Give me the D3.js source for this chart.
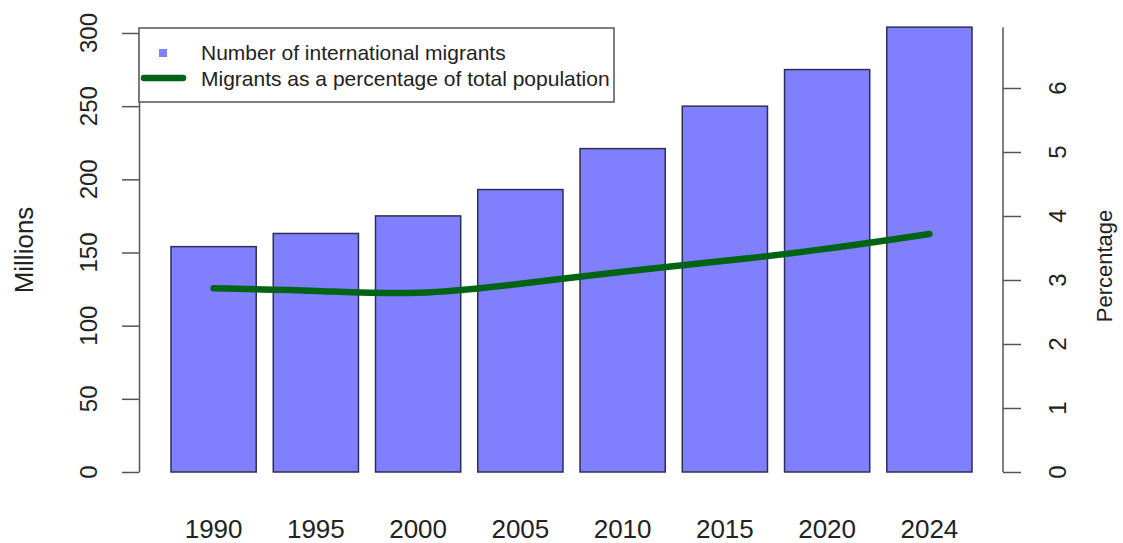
<!DOCTYPE html>
<html>
<head>
<meta charset="utf-8">
<script src="https://cdn.jsdelivr.net/npm/d3@7"></script>
<style>
    body { margin: 0; background: #fff; }
    svg { display: block; font-family: "Liberation Sans", Arial, sans-serif; }
</style>
</head>
<body>
<svg id="chart" width="1123" height="543"></svg>
<script>
// Data
const years = ['1990', '1995', '2000', '2005', '2010', '2015', '2020', '2024'];
const migrants = [154, 163, 175, 193, 221, 250, 275, 304]; // millions
const percentage = [2.87, 2.83, 2.80, 2.94, 3.13, 3.30, 3.49, 3.72];
const millionTicks = [0, 50, 100, 150, 200, 250, 300];
const pctTicks = [0, 1, 2, 3, 4, 5, 6];
const legendLabels = ['Number of international migrants', 'Migrants as a percentage of total population'];

/**
 * Visual configs.
 */
const barFill = '#8080ff',
    barStroke = '#2e2e55',
    lineColor = '#006414',
    axisColor = '#555';

const svg = d3.select('#chart');

const x = d3.scaleBand().domain(years).range([171, 972]).paddingInner(1 / 6).paddingOuter(0);
const yLeft = d3.scaleLinear().domain([0, 300]).range([472, 33]);
const yRight = d3.scaleLinear().domain([0, 6]).range([472, 88]);

// Bars
svg.append('g').attr('class', 'bars')
    .selectAll('rect').data(migrants).enter().append('rect')
        .attr('x', (d, i) => x(years[i]))
        .attr('y', d => yLeft(d))
        .attr('width', x.bandwidth())
        .attr('height', d => yLeft(0) - yLeft(d))
        .style('fill', barFill)
        .style('stroke', barStroke)
        .style('stroke-width', 1.5);

// Percentage line
const line = d3.line()
    .x((d, i) => x(years[i]) + x.bandwidth() / 2)
    .y(d => yRight(d))
    .curve(d3.curveNatural);

svg.append('path').datum(percentage)
    .attr('d', line)
    .style('fill', 'none')
    .style('stroke', lineColor)
    .style('stroke-width', 6.5)
    .style('stroke-linecap', 'round');

// Axes
function styleAxis(g) {
    g.selectAll('path, line').style('stroke', axisColor).style('stroke-width', 1.5);
    g.selectAll('text').remove();
}

const leftAxis = svg.append('g').attr('transform', 'translate(139,0)')
    .call(d3.axisLeft(yLeft).tickValues(millionTicks).tickSize(17).tickSizeOuter(0))
    .call(styleAxis);

const rightAxis = svg.append('g').attr('transform', 'translate(1003,0)')
    .call(d3.axisRight(yRight).tickValues(pctTicks).tickSize(18).tickSizeOuter(0))
    .call(styleAxis);
// Right axis line runs past the last tick
rightAxis.select('.domain').attr('d', 'M0,' + yRight(0) + 'V' + yRight(6.95));

// Tick labels, rotated like R's axis labels
svg.append('g').selectAll('text').data(millionTicks).enter().append('text')
    .attr('transform', d => 'translate(97,' + yLeft(d) + ') rotate(-90)')
    .attr('text-anchor', 'middle')
    .style('font-size', '24px')
    .style('fill', '#222')
    .text(d => d);

svg.append('g').selectAll('text').data(pctTicks).enter().append('text')
    .attr('transform', d => 'translate(1066,' + yRight(d) + ') rotate(-90)')
    .attr('text-anchor', 'middle')
    .style('font-size', '24px')
    .style('fill', '#222')
    .text(d => d);

svg.append('g').selectAll('text').data(years).enter().append('text')
    .attr('x', d => x(d) + x.bandwidth() / 2)
    .attr('y', 538)
    .attr('text-anchor', 'middle')
    .style('font-size', '26px')
    .style('fill', '#222')
    .text(d => d);

// Axis titles
svg.append('text')
    .attr('transform', 'translate(33,' + 250 + ') rotate(-90)')
    .attr('text-anchor', 'middle')
    .style('font-size', '26px')
    .style('fill', '#222')
    .text('Millions');

svg.append('text')
    .attr('transform', 'translate(1112,' + 266 + ') rotate(-90)')
    .attr('text-anchor', 'middle')
    .style('font-size', '22px')
    .style('fill', '#222')
    .text('Percentage');

// Legend
const legend = svg.append('g').attr('class', 'legend');
legend.append('rect')
    .attr('x', 139).attr('y', 28)
    .attr('width', 475).attr('height', 74)
    .style('fill', '#fff')
    .style('stroke', axisColor)
    .style('stroke-width', 1.5);

legend.append('rect')
    .attr('x', 159).attr('y', 49)
    .attr('width', 8).attr('height', 8)
    .style('fill', barFill);

legend.append('line')
    .attr('x1', 144).attr('x2', 183)
    .attr('y1', 78).attr('y2', 78)
    .style('stroke', lineColor)
    .style('stroke-width', 6.5)
    .style('stroke-linecap', 'round');

legend.selectAll('text.item').data(legendLabels).enter().append('text')
    .attr('class', 'item')
    .attr('x', 201)
    .attr('y', (d, i) => 60 + i * 26)
    .style('font-size', '21px')
    .style('fill', '#222')
    .text(d => d);
</script>
</body>
</html>
